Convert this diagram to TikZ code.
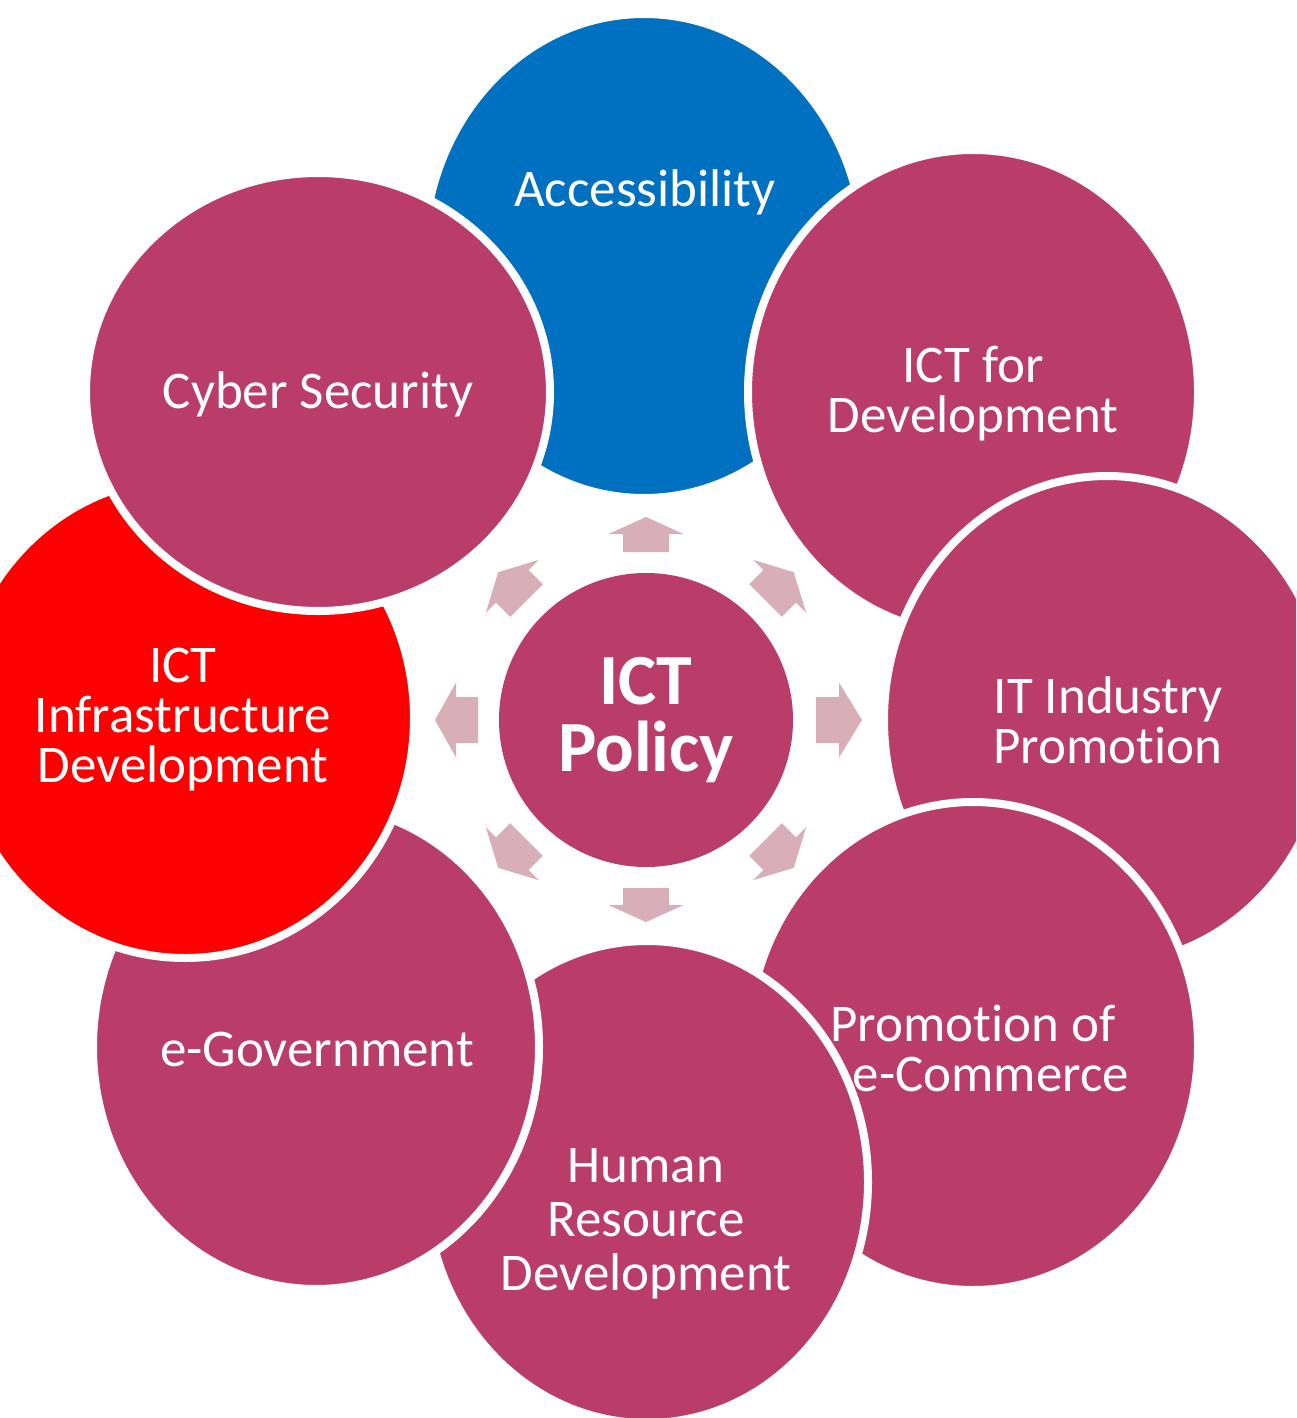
\documentclass[tikz,border=0pt]{standalone}
\usepackage{fontspec}
\setmainfont{Carlito}[Ligatures=NoCommon]
\usetikzlibrary{shapes.geometric}
\definecolor{plum}{RGB}{185,61,104}
\definecolor{accblue}{RGB}{0,112,192}
\definecolor{infrared}{RGB}{255,0,0}
\definecolor{arrowpink}{RGB}{216,174,184}
\begin{document}
\begin{tikzpicture}[x=1pt,y=-1pt,
  bubble/.style={ellipse, draw=white, line width=8pt, inner sep=0pt},
  lbl/.style={text=white, align=center, inner sep=0pt, font=\fontsize{53}{50}\selectfont},
  blockarr/.style={fill=arrowpink}
]
\useasboundingbox (0,0) rectangle (1296,1418);
\clip (0,0) rectangle (1296,1418);
\fill[white] (0,0) rectangle (1296,1418);

% outer bubbles (back to front)
\node[bubble, fill=accblue,  minimum width=440pt, minimum height=484pt] (acc)   at (644,256)  {};
\node[bubble, fill=plum,     minimum width=450pt, minimum height=484pt] (dev)   at (973,392)  {};
\node[bubble, fill=plum,     minimum width=446pt, minimum height=488pt] (ind)   at (1107,720) {};
\node[bubble, fill=plum,     minimum width=450pt, minimum height=488pt] (com)   at (973,1046) {};
\node[bubble, fill=plum,     minimum width=442pt, minimum height=482pt] (hr)    at (647,1182) {};
\node[bubble, fill=plum,     minimum width=446pt, minimum height=484pt] (gov)   at (316,1047) {};
\node[bubble, fill=infrared, minimum width=458pt, minimum height=480pt] (infra) at (185,718)  {};
\node[bubble, fill=plum,     minimum width=464pt, minimum height=438pt] (cyb)   at (318,392)  {};

% centre
\node[circle, fill=plum, minimum size=294pt, inner sep=0pt, text=white, align=center,
      font=\bfseries\fontsize{72}{67}\selectfont] (policy) at (646,720) {ICT\\Policy};

% block arrows
\foreach \ang/\ra/\rb/\rc in {0/170/193/216, 45/169/189/209, 90/168/186/203, 135/169/189/209,
                              180/168/190/211, 225/169/189/209, 270/168/185/202, 315/169/189/209}
  \fill[blockarr, shift={(policy.center)}, rotate=\ang]
    (\ra,-23) -- (\rb,-23) -- (\rb,-37.5) -- (\rc,0) -- (\rb,37.5) -- (\rb,23) -- (\ra,23) -- cycle;

% labels
\node[lbl] (tacc) at (645,192)  {Accessibility};
\node[lbl] (tcyb) at (318,394)  {Cyber Security};
\node[lbl] (tdev) at (973,394)  {ICT for\\Development};
\node[lbl] (tind) at (1108,720) {IT Industry\\Promotion};
\node[lbl] (tcom) at (973,1048) {Promotion of\\\hspace*{36pt}e-Commerce};
\node[lbl, font=\fontsize{53}{54}\selectfont] (thr) at (646,1224) {Human\\Resource\\Development};
\node[lbl] (tgov) at (317,1049) {e-Government};
\node[lbl] (tinf) at (183,720)  {ICT\\Infrastructure\\Development};
\end{tikzpicture}
\end{document}
